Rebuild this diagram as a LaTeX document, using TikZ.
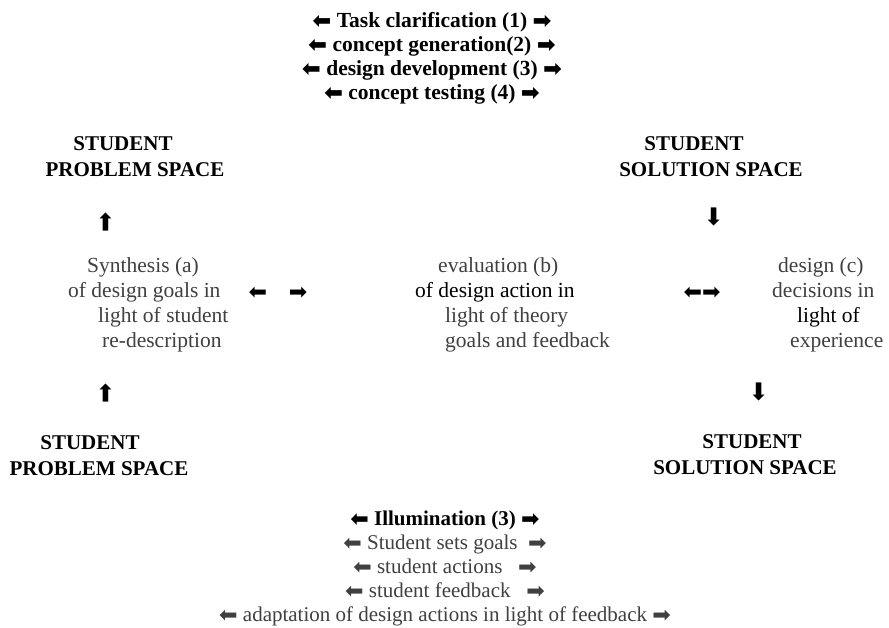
\documentclass[tikz,border=0pt]{standalone}
\usepackage{fontspec}
\usepackage{graphicx}
\setmainfont{Liberation Serif}
\newfontfamily\arrowfont{DejaVu Sans}
\usetikzlibrary{positioning}
\newcommand{\rarr}{\raisebox{-1pt}{\arrowfont\scalebox{1.05}{➡}}}
\newcommand{\larr}{\raisebox{-1pt}{\reflectbox{\arrowfont\scalebox{1.05}{➡}}}}
\newcommand{\uarr}{\rotatebox{90}{\arrowfont\scalebox{1.15}{➡}}}
\newcommand{\darr}{\rotatebox{-90}{\arrowfont\scalebox{1.15}{➡}}}
\tikzset{
  phaselines/.style={align=center,inner sep=0pt,font=\bfseries\fontsize{21.5}{24}\selectfont},
  spacehead/.style={align=center,inner sep=0pt,font=\bfseries\fontsize{21}{26}\selectfont},
  loopbox/.style={align=left,anchor=west,inner sep=0pt,text=black!75,font=\fontsize{21.5}{25}\selectfont},
  arrowmark/.style={inner sep=0pt,font=\fontsize{21}{24}\selectfont},
  actlist/.style={align=center,inner sep=0pt,text=black!75,font=\fontsize{21}{24}\selectfont},
}

\begin{document}
\begin{tikzpicture}[x=1pt,y=-1pt]
  \useasboundingbox[fill=white] (0,0) rectangle (889,627);

  % design phases
  \node[phaselines] (phases) at (432,58)
    {\larr\ Task clarification (1) \rarr\\
     \larr\ concept generation(2) \rarr\\
     \larr\ design development (3) \rarr\\
     \larr\ concept testing (4) \rarr};

  % the two spaces, top row
  \node[spacehead] (probtop) at (135,157) {STUDENT\hspace*{24pt}\\PROBLEM SPACE};
  \node[spacehead] (soltop) at (711,157) {STUDENT\hspace*{34pt}\\SOLUTION SPACE};

  % reflective loop
  \node[arrowmark] (up1) at (107,222) {\uarr};
  \node[arrowmark] (down1) at (713,217) {\darr};
  \node[loopbox] (synth) at (68,305)
    {\hspace*{19pt}Synthesis (a)\\
     of design goals in\\
     \hspace*{30pt}light of student\\
     \hspace*{34pt}re-description};
  \node[arrowmark] (synthl) at (258,293) {\larr};
  \node[arrowmark] (synthr) at (298,293) {\rarr};
  \node[loopbox] (evalb) at (415,305)
    {\hspace*{23pt}evaluation (b)\\
     {\color{black}of design action in}\\
     \hspace*{30pt}light of theory\\
     \hspace*{30pt}goals and feedback};
  \node[arrowmark] (evalr) at (702,293) {\larr\rarr};
  \node[loopbox] (decide) at (772,305)
    {\hspace*{6pt}design (c)\\
     decisions in\\
     \hspace*{25pt}{\color{black}light of}\\
     \hspace*{18pt}experience};
  \node[arrowmark] (up2) at (107,393) {\uarr};
  \node[arrowmark] (down2) at (758,392) {\darr};

  % the two spaces, bottom row
  \node[spacehead] (probbot) at (99,456) {STUDENT\hspace*{18pt}\\PROBLEM SPACE};
  \node[spacehead] (solbot) at (745,455) {\hspace*{14pt}STUDENT\\SOLUTION SPACE};

  % illumination
  \node[actlist] (illum) at (445,568)
    {{\color{black}\bfseries\larr\ Illumination (3) \rarr}\\
     \larr\ Student sets goals \ \rarr\\
     \larr\ student actions \ \ \rarr\\
     \larr\ student feedback \ \ \rarr\\
     \larr\ adaptation of design actions in light of feedback \rarr};
\end{tikzpicture}
\end{document}
